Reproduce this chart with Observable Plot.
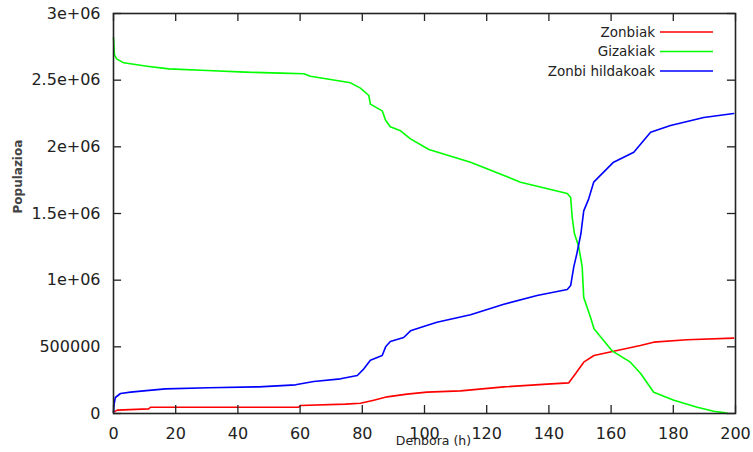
<!DOCTYPE html>
<html><head><meta charset="utf-8">
<script src="https://cdn.jsdelivr.net/npm/d3@7"></script>
<script src="https://cdn.jsdelivr.net/npm/@observablehq/plot@0.6"></script>
<style>body{margin:0;background:#fff} svg{display:block}</style>
</head><body><div id="chart"></div>
<script>
const seriesNames = ["Zonbiak", "Gizakiak", "Zonbi hildakoak"];
const seriesColors = ["#ff0000", "#00ff00", "#0000ff"];

const zonbiakHours = [0, 1.2, 11.3, 11.9, 59.5, 60.1, 74.6, 79.4, 83.7, 88, 94.4, 100.8, 111.6, 125.5, 139.4, 146.4, 148.6, 151.2, 154.5, 160.8, 169.4, 173.7, 184.4, 199.4];
const zonbiakValues = [10000, 25000, 35000, 47000, 47000, 60000, 70000, 77000, 100000, 125000, 145000, 160000, 170000, 200000, 220000, 230000, 300000, 385000, 435000, 467000, 510000, 535000, 553000, 565000];

const gizakiakHours = [0, 0.3, 1, 3.3, 10.8, 17.8, 30.1, 42.4, 53.7, 61.2, 63.3, 69.8, 76.2, 79.4, 82.1, 82.6, 86.4, 87.5, 89, 92.3, 95.5, 101.4, 114.8, 130.9, 145.9, 147, 147.5, 148.2, 149.6, 150.7, 151.2, 153.4, 154.5, 160.3, 166.2, 169.5, 173.7, 180.2, 187.7, 193, 196.8, 197.5];
const gizakiakValues = [2820000, 2690000, 2660000, 2630000, 2605000, 2585000, 2572000, 2560000, 2553000, 2548000, 2530000, 2505000, 2480000, 2440000, 2385000, 2320000, 2270000, 2200000, 2150000, 2120000, 2060000, 1980000, 1885000, 1735000, 1650000, 1620000, 1470000, 1350000, 1250000, 1100000, 870000, 720000, 635000, 470000, 385000, 300000, 160000, 100000, 47000, 17000, 5000, 0];

const hildakoakHours = [0, 0.2, 0.6, 2.25, 5.5, 9.7, 16.7, 30.6, 46.7, 58.5, 64.4, 73, 78.4, 80.5, 82.6, 86.4, 87.5, 89, 93.3, 95.5, 98.7, 104, 114.8, 125.5, 136.2, 145.9, 147, 148, 149, 150.3, 151.2, 152.8, 154.4, 160.8, 167.3, 172.7, 179.1, 189.8, 199.4];
const hildakoakValues = [10000, 70000, 120000, 150000, 160000, 170000, 185000, 193000, 200000, 215000, 240000, 260000, 285000, 335000, 400000, 435000, 500000, 540000, 570000, 620000, 645000, 685000, 740000, 820000, 885000, 930000, 960000, 1100000, 1200000, 1350000, 1520000, 1610000, 1735000, 1885000, 1960000, 2110000, 2160000, 2220000, 2250000];

const xTicks = [0, 20, 40, 60, 80, 100, 120, 140, 160, 180, 200];
const yTicks = [0, 500000, 1000000, 1500000, 2000000, 2500000, 3000000];
const yTickLabels = ["0", "500000", "1e+06", "1.5e+06", "2e+06", "2.5e+06", "3e+06"];
const xTitle = "Denbora (h)";
const yTitle = "Populazioa";

const rows = [];
[[zonbiakHours, zonbiakValues], [gizakiakHours, gizakiakValues], [hildakoakHours, hildakoakValues]].forEach(([hs, vs], i) => {
  hs.forEach((t, j) => rows.push({s: seriesNames[i], t, v: vs[j]}));
});

const chart = Plot.plot({
  width: 753, height: 452,
  marginLeft: 113, marginRight: 18, marginTop: 13, marginBottom: 39,
  style: {fontFamily: "DejaVu Sans", background: "#fff", color: "#222"},
  x: {domain: [0, 200]},
  y: {domain: [0, 3000000]},
  color: {domain: seriesNames, range: seriesColors},
  marks: [
    Plot.line(rows, {x: "t", y: "v", z: "s", stroke: "s", strokeWidth: 1.6}),
    Plot.ruleX(xTicks, {x: d => d, y1: 0, y2: 60000, stroke: "#222", strokeWidth: 1.3}),
    Plot.ruleX(xTicks, {x: d => d, y1: 2940000, y2: 3000000, stroke: "#222", strokeWidth: 1.3}),
    Plot.ruleY(yTicks, {y: d => d, x1: 0, x2: 2.6, stroke: "#222", strokeWidth: 1.3}),
    Plot.ruleY(yTicks, {y: d => d, x1: 197.4, x2: 200, stroke: "#222", strokeWidth: 1.3}),
    Plot.frame({stroke: "#222", strokeWidth: 1.6}),
    Plot.axisX(xTicks, {tickSize: 0, tickPadding: 14, fontSize: 16, label: null}),
    Plot.axisY(yTicks, {tickSize: 0, tickPadding: 13, fontSize: 16, label: null, tickFormat: d => yTickLabels[yTicks.indexOf(d)]}),
    Plot.text([xTitle], {frameAnchor: "bottom", text: d => d, dx: 9, dy: 31, fontSize: 12.5}),
    Plot.text([yTitle], {frameAnchor: "left", text: d => d, rotate: -90, dx: -95, fontSize: 12, fontWeight: "bold", fill: "#444"})
  ]
});
document.getElementById("chart").appendChild(chart);

// legend (top-right, inside plot frame)
const svg = d3.select(chart);
const lg = svg.append("g").attr("font-family", "DejaVu Sans").attr("font-size", 13.5).attr("fill", "#222");
const legendRows = [32, 51.5, 71];
seriesNames.forEach((n, i) => {
  lg.append("text").attr("x", 655).attr("y", legendRows[i]).attr("dy", "0.35em").attr("text-anchor", "end").text(n);
  lg.append("line").attr("x1", 660).attr("x2", 713).attr("y1", legendRows[i]).attr("y2", legendRows[i])
    .attr("stroke", seriesColors[i]).attr("stroke-width", 1.6);
});
</script>
</body></html>
